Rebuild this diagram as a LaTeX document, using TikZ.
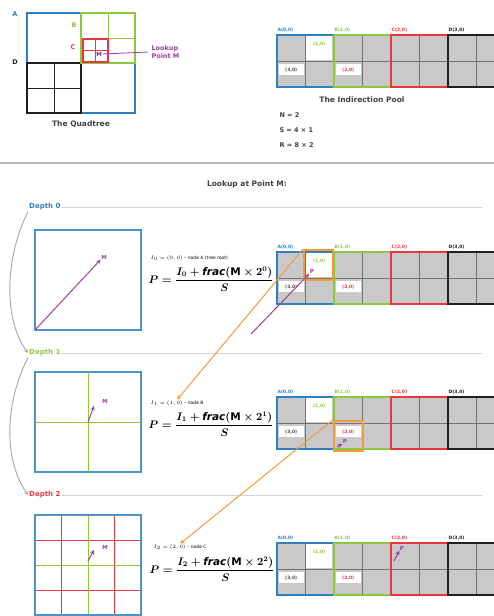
\documentclass[tikz,border=0pt]{standalone}
\usepackage{amsmath}
\usepackage{fontspec}
\setmainfont{DejaVu Sans}
\usetikzlibrary{positioning, calc}
\definecolor{qblue}{HTML}{2F7FC1}
\definecolor{qgreen}{HTML}{8DC63F}
\definecolor{qred}{HTML}{E8383D}
\definecolor{qblack}{HTML}{231F20}
\definecolor{qpurple}{HTML}{9B3FA5}
\definecolor{qorange}{HTML}{F29B38}
\definecolor{cellgray}{HTML}{C9C9C9}

\begin{document}
\begin{tikzpicture}[x=1pt, y=-1pt,
				sq/.style={minimum width=#1, inner sep=0pt, outer sep=0pt},
				poolcell/.style={minimum width=57pt, minimum height=52pt, inner sep=0pt, outer sep=0pt},
				cellline/.style={draw=black!55, line width=0.8pt},
				poollbl/.style={font=\fontsize{4.5}{5}\selectfont\bfseries, anchor=south west, inner sep=0.5pt},
				celltag/.style={fill=white, font=\fontsize{4.5}{5}\selectfont\bfseries, minimum width=25pt, minimum height=11pt, inner sep=0.5pt, anchor=north},
				ttl/.style={font=\fontsize{7.5}{9}\selectfont\bfseries, text=black!75},
				qltr/.style={font=\fontsize{6.5}{7}\selectfont\bfseries},
				depthlbl/.style={font=\fontsize{7}{8}\selectfont\bfseries, anchor=west, inner sep=1pt},
				sepline/.style={draw=gray!35, line width=0.8pt},
				lvlbox/.style={draw=qblue!85, line width=1.2pt, minimum width=106pt, minimum height=100pt, inner sep=0pt, outer sep=0pt},
				marrow/.style={->, >=stealth, qpurple, line width=1pt},
				oarrow/.style={->, >=stealth, qorange, line width=1pt},
				bendarrow/.style={->, >=stealth, gray!70, line width=0.9pt},
				mlbl/.style={text=qpurple, font=\fontsize{5.5}{6}\selectfont\bfseries, inner sep=0.5pt},
				hlbox/.style={draw=qorange, line width=2pt, minimum width=29pt, minimum height=30pt, inner sep=0pt},
				fsmall/.style={font=\fontsize{4.5}{5}\selectfont, anchor=west, inner sep=0.5pt},
				fbig/.style={font=\fontsize{10.5}{11}\selectfont\boldmath, anchor=west, inner sep=0.5pt}
			]
			\useasboundingbox (0,0) rectangle (494,616);

			\node[sq=108pt, minimum height=100pt, draw=qblue, line width=2.5pt] (qA) at (81,63) {};
			\node[sq=54pt, minimum height=50pt, draw=qblack, line width=2pt, anchor=north west] (qD) at (qA.west) {};
			\draw[qblack, line width=1pt] (qD.north) -- (qD.south) (qD.west) -- (qD.east);
			\node[sq=54pt, minimum height=50pt, draw=qgreen, line width=1.5pt, anchor=south west] (qB) at (qA.center) {};
			\draw[qgreen, line width=0.8pt] (qB.north) -- (qB.south) (qB.west) -- (qB.east);
			\node[sq=25pt, minimum height=23pt, draw=qred, line width=2pt, anchor=north west] (qC) at ($(qB.west)+(1.5,1)$) {};
			\draw[qred, line width=0.8pt] (qC.north) -- (qC.south) (qC.west) -- (qC.east);
			\node[mlbl, text=qpurple!70!black] (qM) at (99,54) {M};

			\node[qltr, text=qblue] (ltA) at (15,14) {A};
			\node[qltr, text=qgreen] (ltB) at (74,25) {B};
			\node[qltr, text=qred] (ltC) at (73,47) {C};
			\node[qltr, text=qblack] (ltD) at (15,62) {D};

			\node[text=qpurple, font=\fontsize{6.5}{8}\selectfont\bfseries, align=left, anchor=west] (lkp) at (148,52) {Lookup\\Point M};
			\draw[qpurple, line width=0.8pt] (qM.east) -- (lkp.west);
			\node[ttl] (tqt) at (81,124) {The Quadtree};

			\foreach \py/\row in {35/0, 252/1, 397/2, 543/3} {
				\foreach \nm/\k in {A/0, B/1, C/2, D/3} {
					\node[poolcell, fill=cellgray] (\nm\row) at (305.5+57*\k, \py+26) {};
					\draw[cellline] (\nm\row.north) -- (\nm\row.south) (\nm\row.west) -- (\nm\row.east);
				}
				\node[celltag, anchor=south west, minimum width=26pt, minimum height=24pt] (wA\row) at ($(A\row.center)+(0.5,-0.5)$) {};
				\node[celltag, text=qgreen, fill=none] (tA\row) at ($(wA\row.north)+(0,2)$) {(1,0)};
				\node[celltag, text=qblack!80] (tD\row) at ($(A\row.center)+(-14.25,3)$) {(3,0)};
				\node[celltag, text=qred] (tC\row) at ($(B\row.center)+(-14.25,3)$) {(2,0)};
				\foreach \nm/\col/\k in {A/qblue/0, B/qgreen/1, C/qred/2, D/qblack/3} {
					\draw[\col, line width=2pt] (\nm\row.north west) rectangle (\nm\row.south east);
					\node[poollbl, text=\col] (l\nm\row) at ($(\nm\row.north west)+(0,-2)$) {\nm(\k,0)};
				}
			}
			\node[ttl] (tip) at (362,100) {The Indirection Pool};
			\node[ttl, align=left, anchor=west, font=\fontsize{6.5}{15}\selectfont\bfseries] (nsr) at (276,130) {N = 2\\S = 4 × 1\\R = 8 × 2};

			\draw[gray!55, line width=1.5pt] (0,163) -- (494,163);
			\node[ttl] (tlk) at (247,184) {Lookup at Point M:};

			\node[depthlbl, text=qblue] (dl0) at (28,207) {Depth 0};
			\node[depthlbl, text=qgreen] (dl1) at (28,353) {Depth 1};
			\node[depthlbl, text=qred] (dl2) at (28,495) {Depth 2};
			\draw[sepline] (dl0.east) -- ++(420,0);
			\draw[sepline] (dl1.east) -- ++(420,0);
			\draw[sepline] (dl2.east) -- ++(420,0);
			\draw[bendarrow] (dl0.south west) .. controls (4,260) and (4,320) .. (dl1.west);
			\draw[bendarrow] (dl1.south west) .. controls (4,405) and (4,460) .. (dl2.west);

			\node[lvlbox] (lvl0) at (88,280) {};
			\node[lvlbox] (lvl1) at (88,422) {};
			\node[lvlbox] (lvl2) at (88,565) {};
			\draw[qgreen, line width=0.8pt] (lvl1.north) -- (lvl1.south) (lvl1.west) -- (lvl1.east);
			\foreach \t in {0.25, 0.75} {
				\draw[qred, line width=0.8pt] ($(lvl2.north west)!\t!(lvl2.north east)$) -- ($(lvl2.south west)!\t!(lvl2.south east)$);
				\draw[qred, line width=0.8pt] ($(lvl2.north west)!\t!(lvl2.south west)$) -- ($(lvl2.north east)!\t!(lvl2.south east)$);
			}
			\draw[qgreen, line width=0.8pt] (lvl2.north) -- (lvl2.south) (lvl2.west) -- (lvl2.east);
			\node[lvlbox] at (lvl2.center) {};

			\node[mlbl] (m0) at (104,257) {M};
			\draw[marrow] (lvl0.south west) -- (m0.south west);
			\coordinate (m1) at (94,406);
			\node[mlbl] (mt1) at (105,401) {M};
			\draw[marrow] (lvl1.center) -- (m1);
			\coordinate (m2) at (94,550);
			\node[mlbl] (mt2) at (105,547) {M};
			\draw[marrow] (88,561) -- (m2);

			\node[fsmall] (i0) at (150,258) {$I_0 = (0,0)$ -- node A (tree root)};
			\node[fbig] (f0) at (148,279) {$P = \dfrac{I_0 + \mathit{frac}(\mathrm{M} \times 2^0)}{S}$};
			\node[fsmall] (i1) at (150,403) {$I_1 = (1,0)$ -- node B};
			\node[fbig] (f1) at (148,424) {$P = \dfrac{I_1 + \mathit{frac}(\mathrm{M} \times 2^1)}{S}$};
			\node[fsmall] (i2) at (153,547) {$I_2 = (2,0)$ -- node C};
			\node[fbig] (f2) at (149,569) {$P = \dfrac{I_2 + \mathit{frac}(\mathrm{M} \times 2^2)}{S}$};

			\node[hlbox] (hl0) at ($(A1.center)+(13,-13)$) {};
			\node[mlbl] (pt0) at (312,271) {P};
			\coordinate (p0) at (251,334);
			\draw[marrow] (p0) -- (pt0.south west);
			\draw[oarrow] (hl0.north west) -- (i1.north);

			\node[hlbox] (hl1) at ($(B2.center)+(-14.25,13)$) {};
			\node[mlbl] (pt1) at (345,441) {P};
			\coordinate (p1) at (337,447);
			\draw[marrow] (p1) -- (pt1.south west);
			\draw[oarrow] (hl1.north west) -- (i2.north);

			\node[mlbl] (pt2) at (402,548) {P};
			\coordinate (p2) at (394,561);
			\draw[marrow] (p2) -- (pt2.south west);
		\end{tikzpicture}
\end{document}
